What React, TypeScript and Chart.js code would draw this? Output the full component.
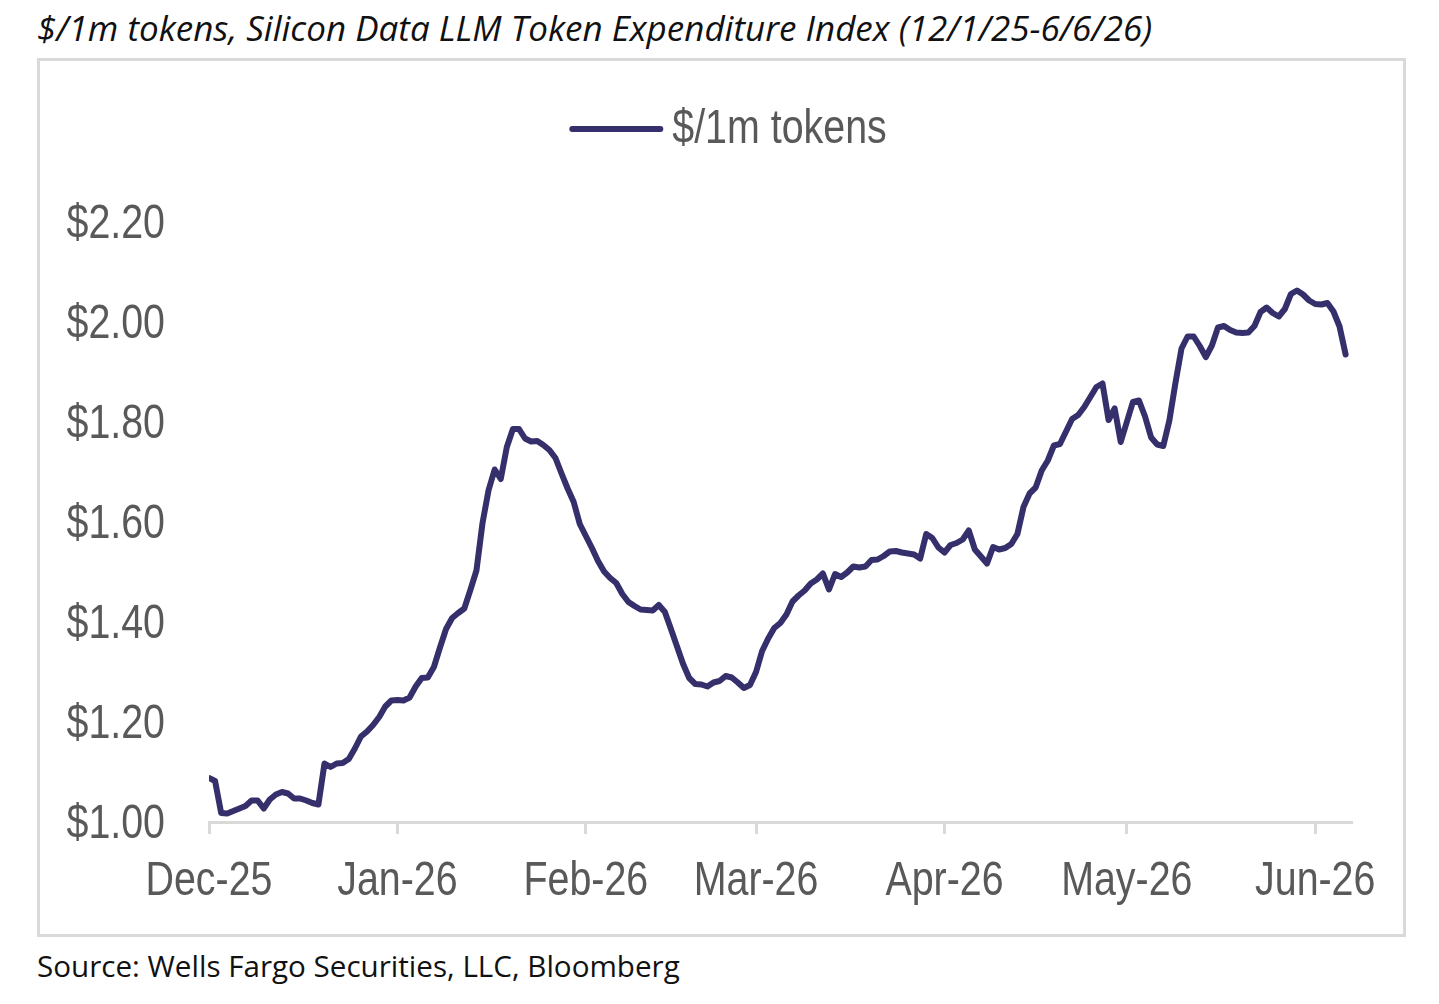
import React, { useEffect, useRef } from "react";
import { Chart, registerables } from "chart.js";

Chart.register(...registerables);

// x = days since 2025-12-01, one value per day
const tokenPrice = [
  1.088, 1.082, 1.018, 1.017, 1.022, 1.027, 1.032, 1.043, 1.043, 1.027,
  1.045, 1.055, 1.060, 1.057, 1.047, 1.047, 1.043, 1.038, 1.035, 1.117,
  1.110, 1.117, 1.118, 1.126, 1.147, 1.171, 1.181, 1.194, 1.210, 1.231,
  1.243, 1.244, 1.243, 1.249, 1.271, 1.288, 1.289, 1.310, 1.349, 1.386,
  1.408, 1.418, 1.427, 1.464, 1.503, 1.598, 1.664, 1.705, 1.686, 1.750,
  1.786, 1.786, 1.767, 1.761, 1.762, 1.754, 1.744, 1.728, 1.697, 1.667,
  1.640, 1.596, 1.572, 1.548, 1.522, 1.501, 1.488, 1.478, 1.456, 1.440,
  1.432, 1.425, 1.424, 1.423, 1.434, 1.420, 1.386, 1.351, 1.316, 1.288,
  1.276, 1.275, 1.271, 1.279, 1.282, 1.292, 1.289, 1.279, 1.268, 1.274,
  1.300, 1.342, 1.367, 1.388, 1.398, 1.415, 1.441, 1.453, 1.463, 1.477,
  1.485, 1.497, 1.465, 1.496, 1.490, 1.499, 1.511, 1.509, 1.511, 1.524,
  1.525, 1.532, 1.541, 1.542, 1.539, 1.537, 1.535, 1.527, 1.576, 1.568,
  1.549, 1.539, 1.554, 1.558, 1.565, 1.583, 1.545, 1.531, 1.517, 1.550,
  1.545, 1.548, 1.556, 1.576, 1.630, 1.657, 1.669, 1.703, 1.723, 1.753,
  1.756, 1.781, 1.806, 1.814, 1.830, 1.850, 1.870, 1.877, 1.804, 1.827,
  1.760, 1.800, 1.840, 1.843, 1.811, 1.769, 1.755, 1.752, 1.803, 1.878,
  1.947, 1.971, 1.971, 1.952, 1.930, 1.953, 1.989, 1.992, 1.984, 1.979,
  1.978, 1.979, 1.992, 2.020, 2.029, 2.018, 2.011, 2.026, 2.056, 2.063,
  2.055, 2.043, 2.036, 2.035, 2.038, 2.021, 1.991, 1.935,
];

const monthTickDays = [0, 31, 62, 90, 121, 151, 182];
const monthLabels = ["Dec-25", "Jan-26", "Feb-26", "Mar-26", "Apr-26", "May-26", "Jun-26"];
const lastDay = 188;

const seriesLabel = "$/1m tokens";
const titleText = "$/1m tokens, Silicon Data LLM Token Expenditure Index (12/1/25-6/6/26)";
const sourceText = "Source: Wells Fargo Securities, LLC, Bloomberg";

const LINE = "#35306b";
const GREY_TEXT = "#595959";
const GREY_LINE = "#d9d9d9";
// no Arial Narrow installed: draw Liberation Sans squeezed horizontally
const AXIS_FONT = "48px 'Liberation Sans', Arial, sans-serif";
const SQUEEZE = 0.82;

function squeezedText(ctx: CanvasRenderingContext2D, text: string, x: number, y: number, align: CanvasTextAlign) {
  ctx.save();
  ctx.translate(x, y);
  ctx.scale(SQUEEZE, 1);
  ctx.textAlign = align;
  ctx.textBaseline = "middle";
  ctx.fillText(text, 0, 0);
  ctx.restore();
}

const narrowLabels = {
  id: "narrowLabels",
  afterDraw(chart: any) {
    const ctx: CanvasRenderingContext2D = chart.ctx;
    const xs = chart.scales.x;
    const ys = chart.scales.y;
    ctx.save();
    ctx.font = AXIS_FONT;
    ctx.fillStyle = GREY_TEXT;

    xs.ticks.forEach((t: any) => {
      squeezedText(ctx, t.label, xs.getPixelForValue(t.value), xs.top + 59.5, "center");
    });
    ys.ticks.forEach((t: any) => {
      squeezedText(ctx, t.label, ys.right - 44, ys.getPixelForValue(t.value) + 2.5, "right");
    });

    // legend: line sample + label, centred over the canvas
    const ds = chart.data.datasets[0];
    const lineLen = 94;
    const gap = 9;
    const textW = ctx.measureText(ds.label).width * SQUEEZE;
    const left = chart.width / 2 + 6.5 - (lineLen + gap + textW) / 2;
    const cy = 68;
    ctx.strokeStyle = ds.borderColor;
    ctx.lineWidth = 6;
    ctx.lineCap = "round";
    ctx.beginPath();
    ctx.moveTo(left + 3, cy);
    ctx.lineTo(left + lineLen - 3, cy);
    ctx.stroke();
    squeezedText(ctx, ds.label, left + lineLen + gap, cy + 1, "left");
    ctx.restore();
  },
};

export default function App() {
  const canvasRef = useRef<HTMLCanvasElement | null>(null);
  const chartRef = useRef<Chart | null>(null);

  useEffect(() => {
    const canvas = canvasRef.current;
    if (!canvas) return;

    if (chartRef.current) {
      chartRef.current.destroy();
      chartRef.current = null;
    }

    chartRef.current = new Chart(canvas, {
      type: "line",
      data: {
        datasets: [
          {
            label: seriesLabel,
            data: tokenPrice.map((v, i) => ({ x: i, y: v })),
            borderColor: LINE,
            backgroundColor: LINE,
            borderWidth: 6,
            borderCapStyle: "round",
            borderJoinStyle: "round",
            pointRadius: 0,
            tension: 0,
          },
        ],
      },
      options: {
        animation: false,
        responsive: true,
        maintainAspectRatio: false,
        layout: { padding: { top: 161, left: 0, right: 51.3, bottom: 0 } },
        plugins: {
          legend: { display: false },
          tooltip: { enabled: false },
        },
        scales: {
          x: {
            type: "linear",
            min: 0,
            max: lastDay,
            afterBuildTicks: (axis: any) => {
              axis.ticks = monthTickDays.map((d) => ({ value: d }));
            },
            afterFit: (axis: any) => {
              axis.height = 112;
            },
            ticks: {
              display: false,
              autoSkip: false,
              callback: (_v: any, i: number) => monthLabels[i],
            },
            grid: {
              display: true,
              drawOnChartArea: false,
              drawTicks: true,
              tickLength: 12,
              color: GREY_LINE,
              lineWidth: 3,
            },
            border: { display: true, color: GREY_LINE, width: 3 },
          },
          y: {
            min: 1,
            max: 2.2,
            afterFit: (axis: any) => {
              axis.width = 169;
            },
            ticks: {
              display: false,
              stepSize: 0.2,
              callback: (v: any) => "$" + Number(v).toFixed(2),
            },
            grid: { display: false },
            border: { display: false },
          },
        },
      },
      plugins: [narrowLabels],
    } as any);

    return () => {
      if (chartRef.current) {
        chartRef.current.destroy();
        chartRef.current = null;
      }
    };
  }, []);

  return (
    <div>
      <div
        style={{
          position: "absolute",
          left: 37,
          top: 4,
          fontFamily: "'Open Sans', 'Noto Sans', sans-serif",
          fontStyle: "italic",
          fontSize: 35,
          color: "#111",
          whiteSpace: "nowrap",
        }}
      >
        {titleText}
      </div>
      <div
        style={{
          position: "absolute",
          left: 37,
          top: 58,
          width: 1369,
          height: 879,
          boxSizing: "border-box",
          border: `3px solid ${GREY_LINE}`,
        }}
      >
        <div style={{ position: "relative", width: 1363, height: 873 }}>
          <canvas ref={canvasRef} />
        </div>
      </div>
      <div
        style={{
          position: "absolute",
          left: 37,
          top: 945,
          fontFamily: "'Open Sans', 'Noto Sans', sans-serif",
          fontSize: 29.6,
          color: "#111",
          whiteSpace: "nowrap",
        }}
      >
        {sourceText}
      </div>
    </div>
  );
}
